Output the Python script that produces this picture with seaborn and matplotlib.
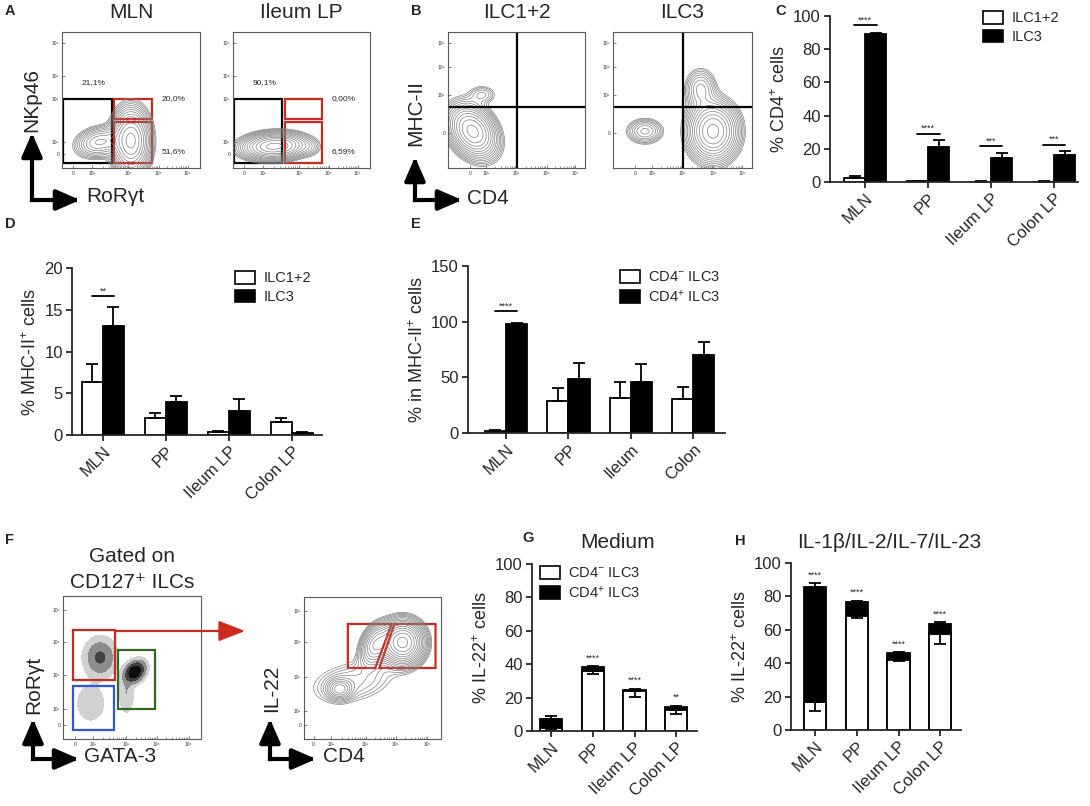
import numpy as np
import pandas as pd
import matplotlib.pyplot as plt
import seaborn as sns
from matplotlib.patches import Rectangle, Polygon, Patch, FancyArrowPatch

sns.set_style('ticks')
plt.rcParams['font.family'] = ['Liberation Sans', 'DejaVu Sans']
plt.rcParams['mathtext.fontset'] = 'custom'
plt.rcParams['mathtext.rm'] = 'Liberation Sans'
plt.rcParams['mathtext.it'] = 'Liberation Sans:italic'
plt.rcParams['mathtext.bf'] = 'Liberation Sans:bold'

# ---------------- bar chart data ----------------
tissues = ['MLN', 'PP', 'Ileum LP', 'Colon LP']
tissues_e = ['MLN', 'PP', 'Ileum', 'Colon']

# C: % CD4+ cells
c_ilc12 = [2.4, 0.4, 0.3, 0.3]
c_ilc12_err = [1.4, 0.1, 0.1, 0.1]
c_ilc3 = [89.0, 20.8, 14.2, 16.4]
c_ilc3_err = [0.8, 4.6, 3.2, 2.0]
c_stars = ['****', '****', '***', '***']
c_star_y = [94.4, 29.0, 21.4, 22.4]

# D: % MHC-II+ cells
d_ilc12 = [6.3, 2.0, 0.3, 1.6]
d_ilc12_err = [2.2, 0.6, 0.15, 0.4]
d_ilc3 = [13.0, 3.9, 2.9, 0.28]
d_ilc3_err = [2.3, 0.8, 1.4, 0.05]
d_stars = ['**', '', '', '']
d_star_y = [16.6, 0, 0, 0]

# E: % in MHC-II+ cells
e_cd4neg = [1.5, 28.8, 31.8, 30.6]
e_cd4neg_err = [1.2, 11.7, 14.1, 10.8]
e_cd4pos = [97.5, 48.9, 45.6, 69.9]
e_cd4pos_err = [1.2, 14.1, 16.2, 11.4]
e_stars = ['****', '', '', '']
e_star_y = [109.5, 0, 0, 0]

# G: medium, % IL-22+ (CD4- part and total)
g_cd4neg = [1.5, 35.8, 23.8, 12.4]
g_cd4neg_err = [0.5, 1.6, 3.3, 2.0]
g_total = [7.2, 38.2, 24.8, 14.4]
g_total_err = [2.0, 0.6, 0.6, 0.8]
g_stars = ['', '****', '****', '**']

# H: cytokines, % IL-22+
h_cd4neg = [16.6, 68.5, 42.1, 57.7]
h_cd4neg_err = [5.4, 1.4, 0.8, 6.4]
h_total = [85.4, 76.8, 45.9, 63.5]
h_total_err = [2.6, 0.6, 0.6, 1.2]
h_stars = ['****', '****', '****', '****']

cd4_names = ['CD4$^{-}$ ILC3', 'CD4$^{+}$ ILC3']

# ---------------- flow panel sketches ----------------
# populations: (x, y, sx, sy, rho, weight) in plot fractions
a_mln_pops = [(0.50, 0.20, 0.07, 0.12, 0.0, 1.0), (0.27, 0.19, 0.09, 0.06, 0.2, 0.35)]
a_ileum_pops = [(0.30, 0.16, 0.12, 0.05, 0.1, 1.0), (0.56, 0.15, 0.05, 0.04, 0.0, 0.06)]
a_mln_pct = ['21,1%', '20,0%', '51,6%']
a_ileum_pct = ['90,1%', '0,00%', '6,59%']
b_ilc12_pops = [(0.18, 0.27, 0.09, 0.10, -0.3, 1.0), (0.25, 0.54, 0.06, 0.04, 0.0, 0.10)]
b_ilc3_pops = [(0.72, 0.27, 0.09, 0.11, 0.0, 1.0), (0.63, 0.58, 0.06, 0.08, 0.0, 0.22),
               (0.23, 0.27, 0.07, 0.05, 0.0, 0.22), (0.14, 0.51, 0.02, 0.02, 0.0, 0.03)]
f_gate_pops = [(0.27, 0.57, 0.06, 0.07, 0.0, 0.35), (0.52, 0.47, 0.04, 0.04, 0.3, 1.0),
               (0.46, 0.32, 0.03, 0.08, 0.0, 0.12), (0.20, 0.25, 0.08, 0.10, 0.0, 0.06)]
f_il22_pops = [(0.72, 0.68, 0.08, 0.08, 0.0, 1.0), (0.52, 0.66, 0.06, 0.08, 0.3, 0.35),
               (0.26, 0.35, 0.05, 0.04, 0.0, 0.22), (0.35, 0.40, 0.20, 0.10, 0.3, 0.08)]
decades = ['0', '10²', '10³', '10⁴', '10⁵']

W, H = 1090, 806
fig = plt.figure(figsize=(W / 100, H / 100), dpi=100)


def box(x0, y0, x1, y1):
    return fig.add_axes([x0 / W, 1 - y1 / H, (x1 - x0) / W, (y1 - y0) / H])


def ftext(x, y, s, **kw):
    fig.text(x / W, 1 - y / H, s, **kw)


def axis_arrows(x, y, top, right):
    for ex, ey in [(x, top), (right, y)]:
        fig.add_artist(FancyArrowPatch((x / W, 1 - y / H), (ex / W, 1 - ey / H),
                                       transform=fig.transFigure,
                                       arrowstyle='-|>,head_length=0.8,head_width=0.35',
                                       mutation_scale=18, lw=3, color='black',
                                       shrinkA=0, shrinkB=0, capstyle='projecting'))


gx, gy = np.meshgrid(np.linspace(0, 1, 220), np.linspace(0, 1, 220))


def density(pops):
    z = np.zeros_like(gx)
    for cx, cy, sx, sy, r, w in pops:
        dx, dy = (gx - cx) / sx, (gy - cy) / sy
        z += w * np.exp(-0.5 / (1 - r * r) * (dx * dx - 2 * r * dx * dy + dy * dy))
    return z


def flow_axes(px, xt, yt, ylabels):
    ax = box(*px)
    ax.set_xlim(0, 1)
    ax.set_ylim(0, 1)
    ax.set_xticks(xt, decades[:len(xt)])
    ax.set_yticks(yt, ylabels)
    minor = []
    for a, b in zip(xt[1:-1], xt[2:]):
        minor += [a + np.log10(m) * (b - a) for m in range(2, 10)]
    ax.set_xticks(minor, minor=True)
    ax.tick_params(direction='in', length=2.5, width=0.5, labelsize=3.5, pad=2,
                   colors='0.3', labelcolor='0.2')
    ax.tick_params(which='minor', direction='in', length=1.5, width=0.4, colors='0.3')
    for s in ax.spines.values():
        s.set_color('0.35')
        s.set_linewidth(0.8)
    return ax


def contours(ax, pops, lo=0.035, n=14):
    z = density(pops)
    ax.contour(gx, gy, z, levels=z.max() * np.geomspace(lo, 0.9, n),
               colors='0.5', linewidths=0.5)


def rect(ax, x0, y0, x1, y1, color, lw=1.6):
    ax.add_patch(Rectangle((x0, y0), x1 - x0, y1 - y0, fill=False, ec=color, lw=lw))


RED, BLUE, GREEN = '#cc2a1d', '#2f55e6', '#2f6a22'

# ---- A ----
ax_x = [0.08, 0.22, 0.48, 0.70, 0.91]
ax_y = [0.10, 0.19, 0.51, 0.68, 0.92]
for px, pops, pct, title in [((62, 32, 200, 168), a_mln_pops, a_mln_pct, 'MLN'),
                              ((233, 32, 370, 168), a_ileum_pops, a_ileum_pct, 'Ileum LP')]:
    ax = flow_axes(px, ax_x, ax_y, decades)
    contours(ax, pops)
    rect(ax, 0.01, 0.04, 0.36, 0.51, 'black')
    rect(ax, 0.38, 0.36, 0.65, 0.51, RED)
    rect(ax, 0.38, 0.04, 0.65, 0.34, RED)
    ax.text(0.145, 0.625, pct[0], fontsize=6, va='center')
    ax.text(0.72, 0.51, pct[1], fontsize=6, va='center')
    ax.text(0.72, 0.12, pct[2], fontsize=6, va='center')
    ftext((px[0] + px[2]) / 2, 12, title, fontsize=15, ha='center', va='center')
ftext(32, 100, 'NKp46', fontsize=15, rotation=90, ha='center', va='center')
ftext(86, 196, 'RoRγt', fontsize=15, ha='left', va='center')
axis_arrows(32, 200, 133, 80)

# ---- B ----
bx = [0.16, 0.28, 0.50, 0.72, 0.93]
by = [0.26, 0.54, 0.74, 0.92]
for px, pops, title in [((448, 32, 585, 168), b_ilc12_pops, 'ILC1+2'),
                        ((613, 32, 752, 168), b_ilc3_pops, 'ILC3')]:
    ax = flow_axes(px, bx, by, ['0', '10³', '10⁴', '10⁵'])
    contours(ax, pops)
    ax.axvline(0.50, color='black', lw=1.6)
    ax.axhline(0.45, color='black', lw=1.6)
    ftext((px[0] + px[2]) / 2, 12, title, fontsize=15, ha='center', va='center')
ftext(416, 113, 'MHC-II', fontsize=15, rotation=90, ha='center', va='center')
ftext(467, 199, 'CD4', fontsize=15, ha='left', va='center')
axis_arrows(415, 200, 157, 462)

# ---- F ----
ax = flow_axes((63, 596, 201, 739), [0.09, 0.22, 0.46, 0.68, 0.91],
               [0.10, 0.21, 0.45, 0.68, 0.90], decades)
z = density(f_gate_pops)
ax.contourf(gx, gy, z, levels=z.max() * np.array([0.03, 0.12, 0.3, 0.6, 1.01]),
            colors=['0.82', '0.55', '0.25', '0.05'])
rect(ax, 0.07, 0.41, 0.38, 0.76, RED)
rect(ax, 0.07, 0.06, 0.37, 0.37, BLUE)
rect(ax, 0.40, 0.21, 0.67, 0.62, GREEN)
ftext(132, 557, 'Gated on', fontsize=15, ha='center', va='center')
ftext(132, 583, 'CD127⁺ ILCs', fontsize=15, ha='center', va='center')
ftext(34, 685, 'RoRγt', fontsize=15, rotation=90, ha='center', va='center')
ftext(84, 757, 'GATA-3', fontsize=15, ha='left', va='center')
axis_arrows(33, 759, 719, 79)
fig.add_artist(FancyArrowPatch((115 / W, 1 - 631 / H), (245 / W, 1 - 631 / H),
                               transform=fig.transFigure,
                               arrowstyle='-|>,head_length=0.9,head_width=0.35',
                               mutation_scale=18, lw=1.6, color=RED, shrinkA=0, shrinkB=0))

ax = flow_axes((304, 597, 441, 739), [0.07, 0.20, 0.45, 0.67, 0.90],
               [0.10, 0.20, 0.44, 0.68, 0.90], decades)
contours(ax, f_il22_pops, lo=0.03, n=16)
ax.add_patch(Polygon([(0.32, 0.81), (0.64, 0.81), (0.52, 0.50), (0.32, 0.50)],
                     fill=False, ec=RED, lw=1.6))
ax.add_patch(Polygon([(0.66, 0.81), (0.96, 0.81), (0.96, 0.50), (0.55, 0.50)],
                     fill=False, ec=RED, lw=1.6))
ftext(272, 688, 'IL-22', fontsize=15, rotation=90, ha='center', va='center')
ftext(323, 757, 'CD4', fontsize=15, ha='left', va='center')
axis_arrows(270, 759, 719, 316)


# ---------------- bar charts ----------------
def style_bar(ax, ymax, step, labels, ylabel, xlim):
    ax.set_xlim(*xlim)
    ax.set_ylim(0, ymax)
    ax.set_yticks(np.arange(0, ymax + 1, step))
    ax.set_xticks(range(len(labels)))
    ax.set_xticklabels(labels, rotation=45, ha='right', va='top',
                       rotation_mode='anchor', fontsize=12)
    ax.set_xlabel('')
    ax.set_ylabel(ylabel, fontsize=13, labelpad=3)
    sns.despine(ax=ax)
    for s in ['left', 'bottom']:
        ax.spines[s].set_linewidth(1.3)
    ax.tick_params(width=1.3, length=4.5, labelsize=12, pad=2)


def legend(ax, labels, x, y):
    handles = [Patch(facecolor=c, edgecolor='black', lw=1.2, label=l)
               for c, l in zip(['white', 'black'], labels)]
    ax.legend(handles=handles, loc='upper left', bbox_to_anchor=(x / W, 1 - y / H),
              bbox_transform=fig.transFigure, frameon=False, fontsize=10.5,
              handlelength=1.35, handleheight=0.95, handletextpad=0.6,
              labelspacing=0.3, borderpad=0, borderaxespad=0)


def grouped(px, lo, lo_err, hi, hi_err, names, labels, ymax, step, ylabel,
            xlim, width, stars, star_y, leg_xy):
    ax = box(*px)
    df = pd.DataFrame({'tissue': labels * 2, 'pct': lo + hi,
                       'cell': [names[0]] * 4 + [names[1]] * 4})
    sns.barplot(data=df, x='tissue', y='pct', hue='cell', hue_order=names,
                palette={names[0]: 'white', names[1]: 'black'}, saturation=1,
                edgecolor='black', linewidth=1.3, width=width, errorbar=None,
                legend=False, ax=ax)
    for cont, err in zip(ax.containers, [lo_err, hi_err]):
        xs = [p.get_x() + p.get_width() / 2 for p in cont]
        ys = [p.get_height() for p in cont]
        ax.errorbar(xs, ys, yerr=[np.zeros(4), err], fmt='none', ecolor='black',
                    elinewidth=1.3, capsize=4, capthick=1.3, zorder=1)
    for i, (s, y) in enumerate(zip(stars, star_y)):
        if s:
            ax.plot([i - 0.18, i + 0.18], [y, y], color='black', lw=1.3)
            ax.annotate(s, (i, y), xytext=(0, 0.5), textcoords='offset points',
                        ha='center', va='bottom', fontsize=6.5)
    style_bar(ax, ymax, step, labels, ylabel, xlim)
    legend(ax, names, *leg_xy)
    return ax


grouped((830, 16, 1078, 182), c_ilc12, c_ilc12_err, c_ilc3, c_ilc3_err,
        ['ILC1+2', 'ILC3'], tissues, 100, 20, '% CD4$^{+}$ cells', (-0.56, 3.38), 0.67,
        c_stars, c_star_y, (983, 11))
grouped((72, 268, 322, 435), d_ilc12, d_ilc12_err, d_ilc3, d_ilc3_err,
        ['ILC1+2', 'ILC3'], tissues, 20, 5, '% MHC-II$^{+}$ cells', (-0.49, 3.48), 0.67,
        d_stars, d_star_y, (235, 271))
grouped((468, 266, 725, 433), e_cd4neg, e_cd4neg_err, e_cd4pos, e_cd4pos_err,
        cd4_names, tissues_e, 150, 50, '% in MHC-II$^{+}$ cells',
        (-0.61, 3.51), 0.68, e_stars, e_star_y, (620, 270))


def stacked(px, neg, neg_err, total, total_err, stars, xlim, title, title_x):
    ax = box(*px)
    sns.barplot(x=tissues, y=total, color='black', saturation=1, edgecolor='black',
                linewidth=1.3, width=0.53, errorbar=None, ax=ax)
    sns.barplot(x=tissues, y=neg, color='white', saturation=1, edgecolor='black',
                linewidth=1.3, width=0.53, errorbar=None, ax=ax)
    xs = np.arange(4)
    ax.errorbar(xs, total, yerr=[np.zeros(4), total_err], fmt='none', ecolor='black',
                elinewidth=1.3, capsize=4, capthick=1.3, zorder=1)
    ax.errorbar(xs, neg, yerr=[neg_err, np.zeros(4)], fmt='none', ecolor='black',
                elinewidth=1.3, capsize=4, capthick=1.3, zorder=5)
    for i, s in enumerate(stars):
        if s:
            ax.text(i, total[i] + total_err[i] + 2.2, s, ha='center', va='bottom',
                    fontsize=6.5)
    style_bar(ax, 100, 20, tissues, '% IL-22$^{+}$ cells', xlim)
    ftext(title_x, 542, title, fontsize=15, ha='center', va='center')
    return ax


ax = stacked((532, 564, 697, 731), g_cd4neg, g_cd4neg_err, g_total, g_total_err,
             g_stars, (-0.46, 3.5), 'Medium', 618)
legend(ax, cd4_names, 540, 566)
stacked((791, 563, 961, 730), h_cd4neg, h_cd4neg_err, h_total, h_total_err,
        h_stars, (-0.58, 3.5), 'IL-1β/IL-2/IL-7/IL-23', 889)

# panel letters
for letter, x, y in [('A', 10, 11), ('B', 416, 11), ('C', 781, 11), ('D', 10, 224),
                     ('E', 416, 224), ('F', 10, 540), ('G', 528, 538), ('H', 740, 541)]:
    ftext(x, y, letter, fontsize=10.5, fontweight='bold', ha='center', va='center')

fig.savefig('out.png', dpi=100)
